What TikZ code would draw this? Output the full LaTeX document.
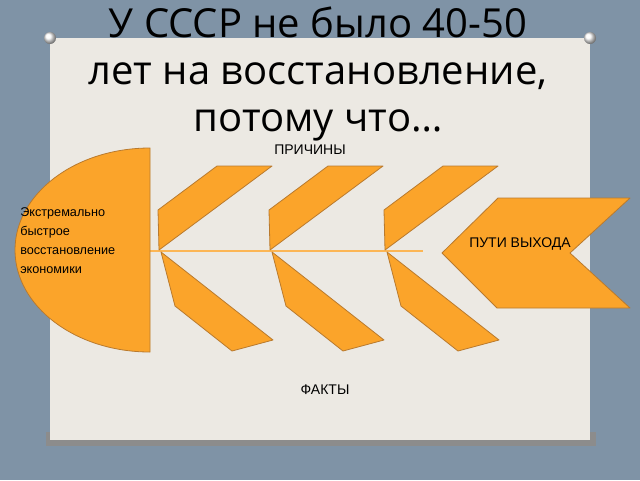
\documentclass[tikz,border=0pt]{standalone}
\usepackage{fontspec}
\setmainfont{Liberation Sans}
\newfontfamily\titlefont{Open Sans}
\definecolor{bonefill}{HTML}{FBA42A}
\definecolor{boneedge}{HTML}{B97A2E}
\definecolor{board}{HTML}{7F93A6}
\definecolor{paper}{HTML}{ECE9E3}
\tikzset{
  bone/.style={fill=bonefill, draw=boneedge, line width=0.6pt, line join=round},
  label/.style={font=\fontsize{10.5}{12}\selectfont, inner sep=0pt}
}
\begin{document}
\begin{tikzpicture}[x=0.75pt,y=-0.75pt]
\fill[board] (0,0) rectangle (640,480);
\useasboundingbox (0,0) rectangle (640,480);
\fill[black!45] (46,432) rectangle (596,446);
\fill[paper] (50,38) rectangle (590,440);

% pins
\foreach \px in {50,590}
  \shade[ball color=white] (\px,38) circle (6);

% title
\node[font=\titlefont\fontsize{30}{35}\selectfont, align=center, inner sep=0pt] (title) at (318,74)
  {У СССР не было 40-50\\лет на восстановление,\\потому что…};

% spine
\draw[bonefill!80!white, line width=1pt] (150,251) -- (423,251);

% head
\draw[bone] (150,148) arc (270:90:135 and 102) -- cycle;
\node[align=left, anchor=west, font=\fontsize{9.5}{14.3}\selectfont, inner sep=0pt] (head) at (20,241)
  {Экстремально\\быстрое\\восстановление\\экономики};

% bones
\foreach \dx in {0,111,226} {
  \draw[bone] (159+\dx,250) -- (158+\dx,210) -- (217+\dx,166) -- (272+\dx,166) -- cycle;
  \draw[bone] (161+\dx,252) -- (175+\dx,306) -- (232+\dx,351) -- (273+\dx,340) -- cycle;
}

% exit
\draw[bone] (442,253) -- (498,198) -- (630,198) -- (570,253) -- (630,308) -- (497,308) -- cycle;
\node[label] (exit) at (520,244) {ПУТИ ВЫХОДА};

\node[label] (causes) at (310,150) {ПРИЧИНЫ};
\node[label] (facts) at (325,390) {ФАКТЫ};
\end{tikzpicture}
\end{document}
